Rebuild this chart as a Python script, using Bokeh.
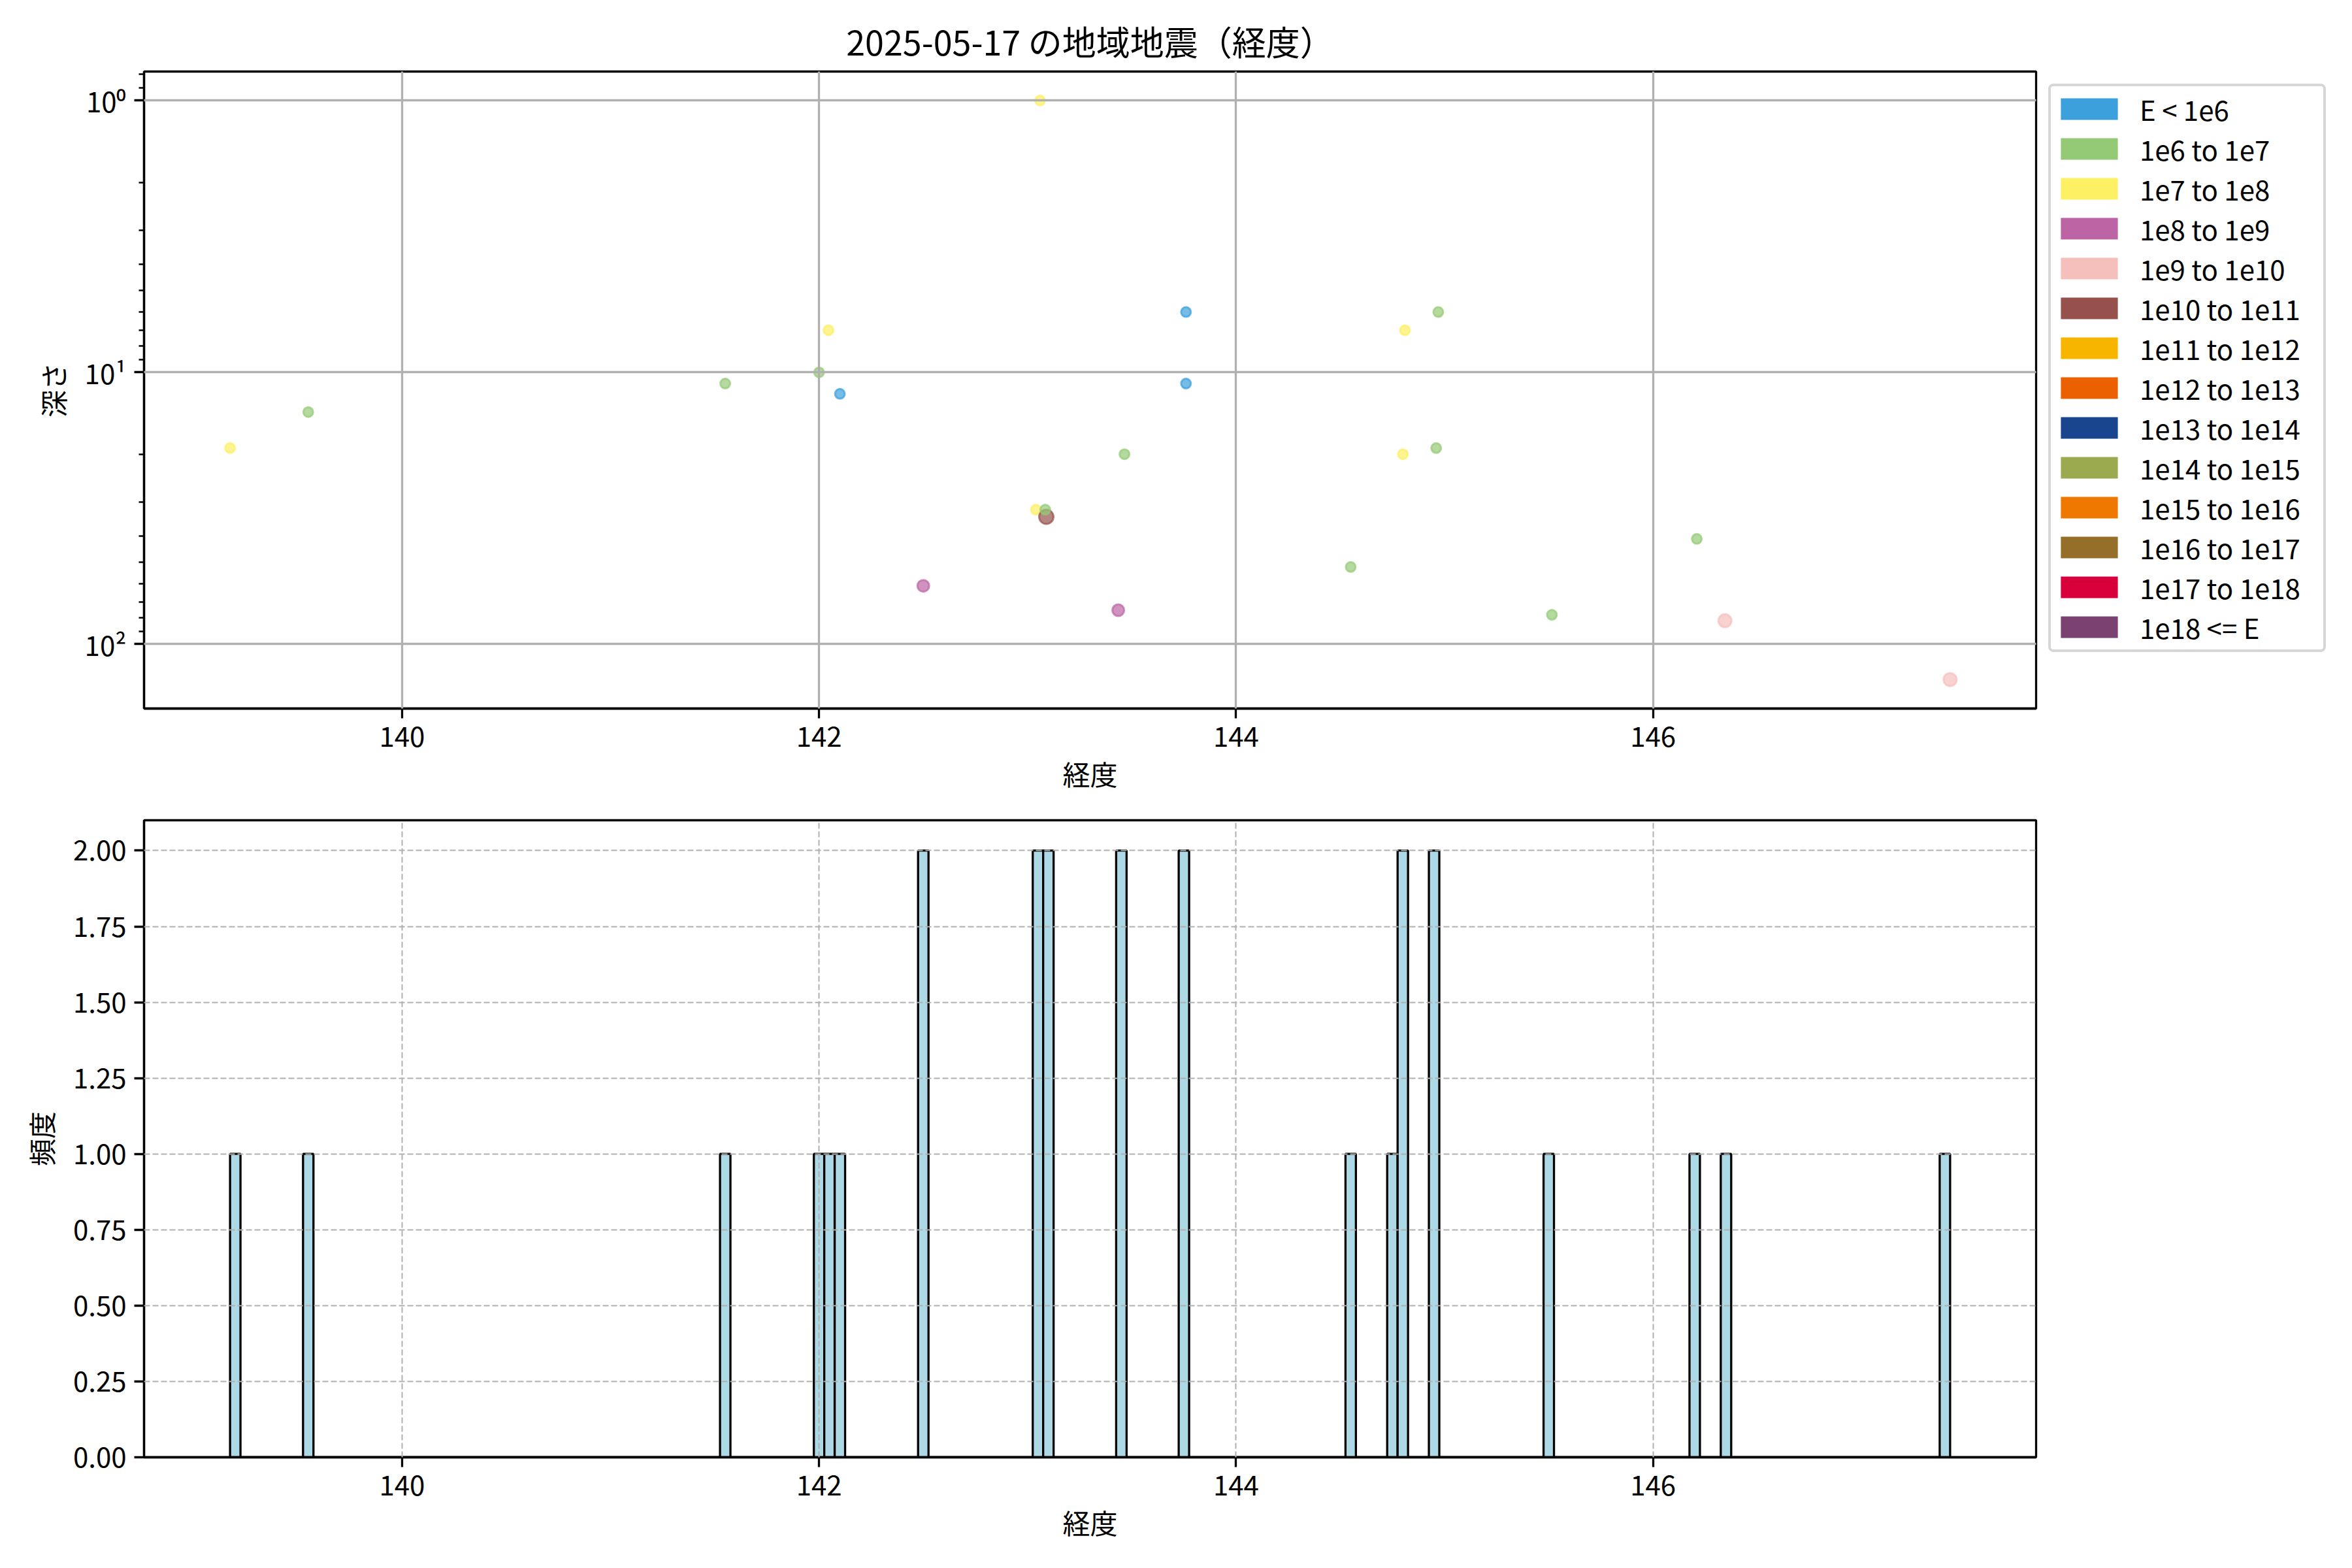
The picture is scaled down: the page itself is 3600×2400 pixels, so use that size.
import numpy as np
from bokeh.plotting import figure
from bokeh.models import (Range1d, FixedTicker, Legend, LegendItem,
                          ColumnDataSource, PrintfTickFormatter)
from bokeh.layouts import column
from bokeh.embed import file_html
from bokeh.resources import INLINE

# ---------------- data ----------------
TITLE = "2025-05-17 の地域地震（経度）"
X_LABEL = "経度"
Y_LABEL_TOP = "深さ"
Y_LABEL_BOTTOM = "頻度"

class_labels = ["E < 1e6", "1e6 to 1e7", "1e7 to 1e8", "1e8 to 1e9",
                "1e9 to 1e10", "1e10 to 1e11", "1e11 to 1e12", "1e12 to 1e13",
                "1e13 to 1e14", "1e14 to 1e15", "1e15 to 1e16", "1e16 to 1e17",
                "1e17 to 1e18", "1e18 <= E"]
class_colors = ["#3ba0dc", "#94ca76", "#fdf063", "#bc64a4", "#f5bfbc",
                "#96514d", "#f7b500", "#eb6101", "#19448e", "#9caa4f",
                "#ee7800", "#956f29", "#d7003a", "#7a4171"]

# longitude (deg), depth (km), energy class index
longitude = [139.175, 139.55, 141.55, 142.00, 142.045, 142.10, 142.50, 142.50,
             143.04, 143.06, 143.09, 143.085, 143.435, 143.465, 143.76, 143.76,
             144.55, 144.75, 144.80, 144.81, 144.96, 144.97, 145.515, 146.21,
             146.345, 147.425]
depth = [19, 14, 11, 10, 7, 12, 61, 0,
         32, 1, 34, 32, 75, 20, 6, 11,
         52, 0, 20, 7, 19, 6, 78, 41,
         82, 135]
energy_class = [2, 1, 1, 1, 2, 0, 3, 1,
                2, 2, 5, 1, 3, 1, 0, 0,
                1, 1, 2, 2, 1, 1, 1, 1,
                4, 4]

x_ticks = [140, 142, 144, 146]
depth_ticks = [1, 10, 100]
depth_tick_labels = ["10⁰", "10¹", "10²"]
depth_minor_ticks = [0.8, 0.9, 2, 3, 4, 5, 6, 7, 8, 9, 20, 30, 40, 50, 60, 70, 80, 90]
count_ticks = [0, 0.25, 0.5, 0.75, 1.0, 1.25, 1.5, 1.75, 2.0]
hist_bins = 165

# ---------------- style ----------------
FONT = "Noto Sans CJK JP"
class_marker_size = [15, 15, 15, 18, 20, 22, 24, 26, 28, 30, 32, 34, 36, 38]
GRID_COLOR = "#b0b0b0"


def style_axes(p):
    for ax in (p.xaxis[0], p.yaxis[0]):
        ax.major_label_text_font = FONT
        ax.major_label_text_font_size = "42px"
        ax.major_label_text_color = "black"
        ax.axis_label_text_font = FONT
        ax.axis_label_text_font_size = "42px"
        ax.axis_label_text_font_style = "normal"
        ax.axis_label_text_color = "black"
        ax.axis_line_color = "black"
        ax.axis_line_width = 3.3
        ax.major_tick_line_color = "black"
        ax.major_tick_line_width = 3.3
        ax.major_tick_out = 15
        ax.major_tick_in = 0
        ax.minor_tick_line_color = "black"
        ax.minor_tick_line_width = 2.5
        ax.minor_tick_out = 8
        ax.minor_tick_in = 0
        ax.major_label_standoff = 12
        ax.axis_label_standoff = 16
    p.xaxis[0].axis_label_standoff = 7
    p.outline_line_color = "black"
    p.outline_line_width = 3.3
    p.outline_line_alpha = 1.0
    p.background_fill_color = "white"
    p.border_fill_color = "white"


lon = np.array(longitude, dtype=float)
dep = np.array(depth, dtype=float)
cls = np.array(energy_class, dtype=int)

xmin, xmax = lon.min(), lon.max()
xpad = 0.05 * (xmax - xmin)

pos = dep > 0
lmin, lmax = np.log10(dep[pos].min()), np.log10(dep[pos].max())
lpad = 0.05 * (lmax - lmin)

# ---------------- top: scatter ----------------
p1 = figure(frame_width=2896, frame_height=975,
            x_range=Range1d(xmin - xpad, xmax + xpad),
            y_range=Range1d(10 ** (lmax + lpad), 10 ** (lmin - lpad)),
            y_axis_type="log", output_backend="svg", toolbar_location=None,
            min_border_left=220, min_border_right=20,
            min_border_top=109, min_border_bottom=144)

p1.title.text = TITLE
p1.title.text_font = FONT
p1.title.text_font_size = "52px"
p1.title.text_font_style = "normal"
p1.title.text_color = "black"
p1.title.align = "center"
p1.title.standoff = 20

src = ColumnDataSource(dict(
    x=lon[pos], y=dep[pos],
    color=[class_colors[c] for c in cls[pos]],
    size=[class_marker_size[c] for c in cls[pos]],
))
p1.scatter("x", "y", source=src, size="size", fill_color="color",
           line_color="color", fill_alpha=0.7, line_alpha=0.7, line_width=3)

# legend-only patch renderers (one non-drawable row each so the swatch gets its colour)
items = []
for lab, col in zip(class_labels, class_colors):
    r = p1.quad(left=[np.nan], right=[np.nan], top=[np.nan], bottom=[np.nan],
                fill_color=col, line_color=None)
    items.append(LegendItem(label=lab, renderers=[r]))

legend = Legend(items=items, location="top_left",
                glyph_width=109, glyph_height=41, label_height=33,
                label_width=277, label_standoff=23, label_text_font=FONT,
                label_text_font_size="42px", label_text_color="black",
                spacing=0, padding=4,
                margin=19, border_line_color="#cccccc", border_line_alpha=0.8,
                border_line_width=4, background_fill_alpha=0.8,
                border_radius=8)
p1.add_layout(legend, "right")

p1.xaxis.ticker = FixedTicker(ticks=x_ticks)
p1.yaxis.ticker = FixedTicker(ticks=depth_ticks, minor_ticks=depth_minor_ticks)
p1.yaxis.major_label_overrides = {t: s for t, s in zip(depth_ticks, depth_tick_labels)}
p1.xaxis.axis_label = X_LABEL
p1.yaxis.axis_label = Y_LABEL_TOP
style_axes(p1)
p1.xaxis.minor_tick_line_color = None
for g in (p1.xgrid, p1.ygrid):
    g.grid_line_color = GRID_COLOR
    g.grid_line_width = 3.3
    g.level = "guide"
p1.ygrid.ticker = FixedTicker(ticks=depth_ticks)
p1.xgrid.ticker = FixedTicker(ticks=x_ticks)

# ---------------- bottom: histogram ----------------
counts, edges = np.histogram(lon, bins=hist_bins)

p2 = figure(frame_width=2896, frame_height=975,
            x_range=Range1d(xmin - xpad, xmax + xpad),
            y_range=Range1d(0, counts.max() * 1.05),
            output_backend="svg", toolbar_location=None,
            min_border_left=220, min_border_right=20,
            min_border_top=27, min_border_bottom=150)

p2.quad(left=edges[:-1], right=edges[1:], bottom=0, top=counts,
        fill_color="#add8e6", line_color="black", line_width=3.3)

p2.xaxis.ticker = FixedTicker(ticks=x_ticks)
p2.yaxis.ticker = FixedTicker(ticks=count_ticks)
p2.yaxis.formatter = PrintfTickFormatter(format="%.2f")
p2.xaxis.axis_label = X_LABEL
p2.yaxis.axis_label = Y_LABEL_BOTTOM
style_axes(p2)
p2.xaxis.minor_tick_line_color = None
p2.yaxis.minor_tick_line_color = None
for g in (p2.xgrid, p2.ygrid):
    g.grid_line_color = GRID_COLOR
    g.grid_line_width = 2
    g.grid_line_dash = "9 4"
    g.level = "guide"
p2.xgrid.ticker = FixedTicker(ticks=x_ticks)
p2.ygrid.ticker = FixedTicker(ticks=count_ticks)

layout = column(p1, p2)
open("out.html", "w").write(file_html(layout, INLINE))
